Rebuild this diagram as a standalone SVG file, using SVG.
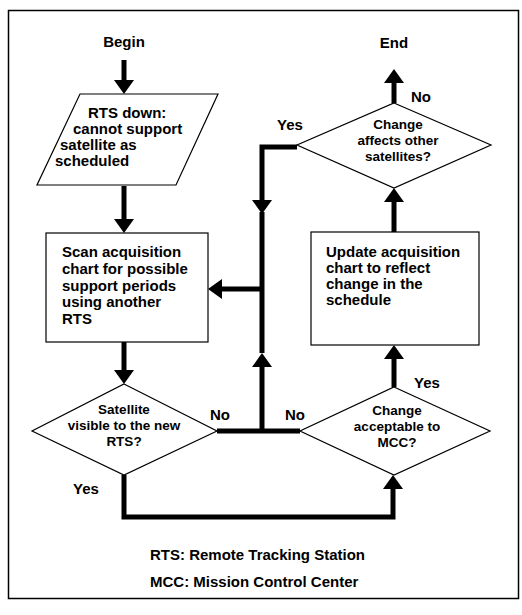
<svg xmlns="http://www.w3.org/2000/svg" width="522" height="615" viewBox="0 0 522 615">
<style>
text{font-family:"Liberation Sans",Arial,sans-serif;font-weight:bold;font-size:15px;fill:#000}
.mid{text-anchor:middle}
.dt{font-size:13.5px;text-anchor:middle}
.shape{fill:#fff;stroke:#000;stroke-width:1.2}
.conn{fill:none;stroke:#000;stroke-width:5;stroke-linejoin:miter;stroke-linecap:butt}
</style>
<defs>
<marker id="ah" markerUnits="userSpaceOnUse" markerWidth="14" markerHeight="20" refX="0" refY="10" orient="auto" viewBox="0 0 14 20">
<path d="M0,0 L14,10 L0,20 z" fill="#000"/>
</marker>
</defs>
<rect x="8.5" y="10.5" width="510" height="588" fill="#fff" stroke="#000" stroke-width="1.5"/>
<g id="connectors">
<path class="conn" d="M124,60 V80" marker-end="url(#ah)"/>
<path class="conn" d="M124,186 V219" marker-end="url(#ah)"/>
<path class="conn" d="M124,342 V370" marker-end="url(#ah)"/>
<path class="conn" d="M124,475 V517 H393 V489" marker-end="url(#ah)"/>
<path class="conn" d="M217,431 H300"/>
<path class="conn" d="M297,147 H262 V200" marker-end="url(#ah)"/>
<path class="conn" d="M262,353 V212"/>
<path class="conn" d="M262,431 V367" marker-end="url(#ah)"/>
<path class="conn" d="M262,289 H222" marker-end="url(#ah)"/>
<path class="conn" d="M394,387 V359" marker-end="url(#ah)"/>
<path class="conn" d="M394,232 V202" marker-end="url(#ah)"/>
<path class="conn" d="M394,103 V83" marker-end="url(#ah)"/>
</g>
<g id="begin"><text class="mid" x="124" y="47">Begin</text></g>
<g id="end"><text class="mid" x="394" y="48">End</text></g>
<g id="rts-down">
<polygon class="shape" points="80,94 218,94 176,185 37,185"/>
<text x="88" y="118">RTS down:</text>
<text x="73" y="134">cannot support</text>
<text x="60" y="150">satellite as</text>
<text x="55" y="166">scheduled</text>
</g>
<g id="scan">
<rect class="shape" x="46" y="233" width="162" height="109"/>
<text x="62" y="257">Scan acquisition</text>
<text x="62" y="274">chart for possible</text>
<text x="62" y="291">support  periods</text>
<text x="62" y="307">using another</text>
<text x="62" y="324">RTS</text>
</g>
<g id="visible">
<polygon class="shape" points="124,384 217,431 124,475 32,431"/>
<text class="dt" x="124" y="414">Satellite</text>
<text class="dt" x="124" y="430">visible to the new</text>
<text class="dt" x="124" y="446">RTS?</text>
</g>
<g id="acceptable">
<polygon class="shape" points="394,387 490,431 394,475 300,431"/>
<text class="dt" x="397" y="415">Change</text>
<text class="dt" x="397" y="431">acceptable to</text>
<text class="dt" x="397" y="447">MCC?</text>
</g>
<g id="update">
<rect class="shape" x="311" y="232" width="168" height="113"/>
<text x="326" y="257">Update acquisition</text>
<text x="326" y="273">chart to reflect</text>
<text x="326" y="289">change in the</text>
<text x="326" y="305">schedule</text>
</g>
<g id="affects">
<polygon class="shape" points="394,103 491,145 394,188 297,145"/>
<text class="dt" x="398" y="129">Change</text>
<text class="dt" x="398" y="145">affects other</text>
<text class="dt" x="398" y="161">satellites?</text>
</g>
<g id="labels">
<text x="411" y="102">No</text>
<text x="277" y="130">Yes</text>
<text x="414" y="388">Yes</text>
<text x="210" y="420">No</text>
<text x="285" y="420">No</text>
<text x="73" y="494">Yes</text>
</g>
<g id="legend">
<text x="150" y="560">RTS: Remote Tracking Station</text>
<text x="150" y="587">MCC: Mission Control Center</text>
</g>
</svg>
